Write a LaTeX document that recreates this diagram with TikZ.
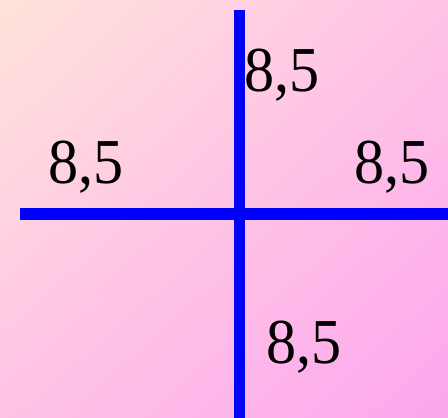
\documentclass[tikz,border=0pt]{standalone}
\usepackage{fontspec}
\setmainfont{Liberation Serif}
\usetikzlibrary{shadings}
\definecolor{bgA}{HTML}{FFE3DA}
\definecolor{bgB}{HTML}{FFC3E6}
\definecolor{bgC}{HTML}{FCA6EE}
\newcommand{\numtxt}[1]{\scalebox{0.94}[1]{#1}}
\tikzset{
  bar/.style={draw=blue, line width=11.5pt},
  num/.style={anchor=base west, inner sep=0pt, font=\fontsize{64}{64}\selectfont}
}
\begin{document}
\begin{tikzpicture}[x=1pt,y=1pt]
\shade[upper left=bgA, upper right=bgB, lower left=bgB, lower right=bgC] (0,0) rectangle (448,418);
\useasboundingbox (0,0) rectangle (448,418);
\coordinate (vtop) at (239.5,408);
\coordinate (vbot) at (239.5,0);
\coordinate (hleft) at (20,204);
\coordinate (hright) at (448,204);
\draw[bar] (vtop) -- (vbot);
\draw[bar] (hleft) -- (hright);
\node[num] (t) at (244.5,326.3) {\numtxt{8,5}};
\node[num] (l) at (48.5,234.7) {\numtxt{8,5}};
\node[num] (r) at (354.5,234.7) {\numtxt{8,5}};
\node[num] (b) at (266.2,54.7) {\numtxt{8,5}};
\end{tikzpicture}
\end{document}
